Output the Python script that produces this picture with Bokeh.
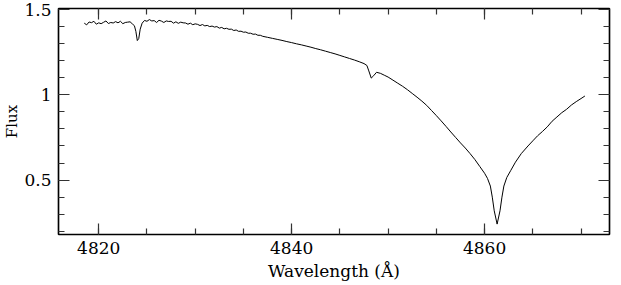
from bokeh.plotting import figure
from bokeh.models import (LinearAxis, FixedTicker, CustomJSTickFormatter, Range1d,
                          ColumnDataSource, CustomLabelingPolicy)
from bokeh.embed import file_html
from bokeh.resources import INLINE

# ---- data ----
wavelength = [
    4818.50, 4818.75, 4819.00, 4819.25, 4819.50, 4819.75, 4820.00, 4820.25, 4820.50, 4820.75,
    4821.00, 4821.25, 4821.50, 4821.75, 4822.00, 4822.25, 4822.50, 4822.75, 4823.00, 4823.25,
    4823.50, 4823.70, 4823.85, 4824.00, 4824.15, 4824.30, 4824.50, 4824.75, 4825.00, 4825.25,
    4825.50, 4825.75, 4826.00, 4826.25, 4826.50, 4826.75, 4827.00, 4827.25, 4827.50, 4827.75,
    4828.00, 4828.25, 4828.50, 4828.75, 4829.00, 4829.25, 4829.50, 4829.75, 4830.00, 4830.25,
    4830.50, 4830.75, 4831.00, 4831.25, 4831.50, 4831.75, 4832.00, 4832.25, 4832.50, 4832.75,
    4833.00, 4833.25, 4833.50, 4833.75, 4834.00, 4834.25, 4834.50, 4834.75, 4835.00, 4835.25,
    4835.50, 4835.75, 4836.00, 4836.25, 4836.50, 4836.75, 4837.00, 4837.50, 4838.00, 4838.50,
    4839.00, 4839.50, 4840.00, 4840.50, 4841.00, 4841.50, 4842.00, 4842.50, 4843.00, 4843.50,
    4844.00, 4844.50, 4845.00, 4845.50, 4846.00, 4846.50, 4847.00, 4847.50, 4847.80, 4848.00,
    4848.25, 4848.50, 4848.80, 4849.20, 4849.60, 4850.00, 4850.50, 4851.00, 4851.50, 4852.00,
    4852.50, 4853.00, 4853.50, 4854.00, 4854.50, 4855.00, 4855.50, 4856.00, 4856.50, 4857.00,
    4857.50, 4858.00, 4858.50, 4859.00, 4859.50, 4860.00, 4860.30, 4860.60, 4860.80, 4861.00,
    4861.30, 4861.60, 4861.80, 4862.00, 4862.30, 4862.70, 4863.20, 4863.80, 4864.50, 4865.00,
    4865.50, 4866.00, 4866.50, 4867.00, 4867.50, 4868.00, 4868.50, 4869.00, 4869.50, 4870.00,
    4870.40,
]
flux = [
    1.420, 1.410, 1.427, 1.423, 1.431, 1.414, 1.422, 1.417, 1.425, 1.433,
    1.418, 1.424, 1.421, 1.429, 1.422, 1.431, 1.417, 1.424, 1.426, 1.428,
    1.415, 1.405, 1.372, 1.318, 1.330, 1.385, 1.420, 1.436, 1.431, 1.441,
    1.433, 1.435, 1.424, 1.437, 1.432, 1.424, 1.433, 1.430, 1.431, 1.420,
    1.428, 1.419, 1.426, 1.422, 1.421, 1.414, 1.420, 1.411, 1.416, 1.413,
    1.406, 1.412, 1.404, 1.407, 1.400, 1.403, 1.397, 1.400, 1.391, 1.395,
    1.387, 1.390, 1.384, 1.385, 1.377, 1.380, 1.372, 1.373, 1.367, 1.368,
    1.361, 1.361, 1.355, 1.356, 1.349, 1.349, 1.343, 1.337, 1.331, 1.325,
    1.319, 1.312, 1.306, 1.299, 1.293, 1.286, 1.279, 1.271, 1.264, 1.256,
    1.248, 1.240, 1.231, 1.222, 1.213, 1.204, 1.194, 1.183, 1.172, 1.140,
    1.098, 1.112, 1.132, 1.126, 1.115, 1.104, 1.086, 1.068, 1.050, 1.030,
    1.008, 0.986, 0.963, 0.938, 0.908, 0.878, 0.847, 0.815, 0.782, 0.750,
    0.718, 0.688, 0.655, 0.620, 0.580, 0.540, 0.510, 0.465, 0.400, 0.320,
    0.242, 0.320, 0.400, 0.465, 0.515, 0.555, 0.605, 0.655, 0.700, 0.730,
    0.760, 0.785, 0.812, 0.845, 0.870, 0.895, 0.915, 0.940, 0.960, 0.978,
    0.993,
]
x_major_ticks = [4820, 4840, 4860]
x_minor_ticks = [4820, 4825, 4830, 4835, 4840, 4845, 4850, 4855, 4860, 4865, 4870]
y_major_ticks = [0.5, 1.0, 1.5]
y_minor_ticks = [0.2, 0.3, 0.4, 0.5, 0.6, 0.7, 0.8, 0.9, 1.0, 1.1, 1.2, 1.3, 1.4, 1.5]
x_label = "Wavelength (Å)"
y_label = "Flux"

FONT = "DejaVu Serif"

p = figure(width=613, height=283, output_backend="svg", toolbar_location=None,
           x_range=Range1d(4815.83, 4872.95), y_range=Range1d(0.181, 1.506),
           min_border_left=10, min_border_right=1, min_border_top=8, min_border_bottom=10,
           x_axis_location=None, y_axis_location=None)
p.grid.visible = False
p.outline_line_color = "black"
p.outline_line_width = 1.2
p.background_fill_color = "white"
p.border_fill_color = "white"

src = ColumnDataSource(dict(x=wavelength, y=flux))
p.line("x", "y", source=src, line_color="black", line_width=1.0)

fmt = CustomJSTickFormatter(code="return String(tick);")
no_labels = CustomLabelingPolicy(code="""
    for (const i of indices) { indices.unset(i) }
    return indices
""")


def style(ax, labels):
    ax.axis_line_color = "black"
    ax.axis_line_width = 1.5
    ax.major_tick_in = 11
    ax.major_tick_out = 0
    ax.minor_tick_in = 6
    ax.minor_tick_out = 0
    ax.major_tick_line_color = "#333333"
    ax.minor_tick_line_color = "#333333"
    ax.major_tick_line_width = 1.2
    ax.minor_tick_line_width = 1.2
    if labels:
        ax.major_label_text_font = FONT
        ax.major_label_text_font_size = "17px"
        ax.major_label_text_color = "black"
        ax.axis_label_text_font = FONT
        ax.axis_label_text_font_size = "17px"
        ax.axis_label_text_font_style = "normal"
        ax.axis_label_text_color = "black"
    else:
        ax.major_label_policy = no_labels
        ax.major_label_text_font_size = "1px"
        ax.major_label_standoff = 0
        ax.axis_label = None


xt = FixedTicker(ticks=x_major_ticks, minor_ticks=x_minor_ticks)
yt = FixedTicker(ticks=y_major_ticks, minor_ticks=y_minor_ticks)

xb = LinearAxis(ticker=xt, formatter=fmt, axis_label=x_label)
style(xb, True)
xb.major_label_standoff = 7
xb.axis_label_standoff = 4
p.add_layout(xb, "below")

yl = LinearAxis(ticker=yt, formatter=fmt, axis_label=y_label)
style(yl, True)
yl.axis_label_text_font_size = "15px"
yl.major_label_standoff = 7
yl.axis_label_standoff = 0
p.add_layout(yl, "left")

xa = LinearAxis(ticker=xt, formatter=fmt)
style(xa, False)
p.add_layout(xa, "above")

yr = LinearAxis(ticker=yt, formatter=fmt)
style(yr, False)
p.add_layout(yr, "right")

open("out.html", "w").write(file_html(p, INLINE))
